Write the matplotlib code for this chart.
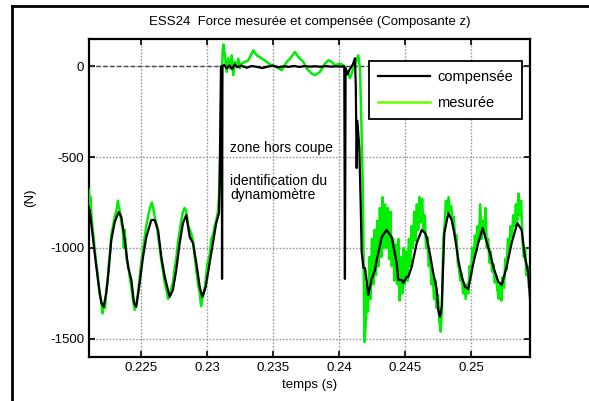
# -*- coding: utf-8 -*-
"""
ESS24 : force mesuree et compensee, composante z.
"""

import matplotlib
matplotlib.use("Agg")
import matplotlib.pyplot as plt
from matplotlib.lines import Line2D

plt.rcParams.update({
    "font.family": ["Liberation Sans", "DejaVu Sans"],
    "font.size": 9.5,
    "axes.unicode_minus": False,
})

# ============================================================
# 1. DONNEES
# ============================================================

# --- force compensee (noir) ---
t_comp = [
    0.22111, 0.22123, 0.22149, 0.22174, 0.22199, 0.22217, 0.22237, 0.22255,
    0.22275, 0.22301, 0.22331, 0.22351, 0.22377, 0.22402, 0.22427, 0.22447,
    0.22464, 0.22490, 0.22515, 0.22540, 0.22578, 0.22604, 0.22629, 0.22654,
    0.22680, 0.22717, 0.22742, 0.22767, 0.22793, 0.22818, 0.22843, 0.22869,
    0.22894, 0.22919, 0.22945, 0.22964, 0.22990, 0.23020, 0.23045, 0.23070,
    0.23091, 0.23096, 0.23106, 0.23112, 0.23114, 0.23117,
    0.2313, 0.2315, 0.2317, 0.2319, 0.2321, 0.2323, 0.2326, 0.2330,
    0.2334, 0.2338, 0.2342, 0.2346, 0.2350, 0.2354, 0.2358, 0.2362,
    0.2366, 0.2370, 0.2374, 0.2378, 0.2382, 0.2386, 0.2390, 0.2394,
    0.2398, 0.24015, 0.24040, 0.24045, 0.24050, 0.24063, 0.24083, 0.24105,
    0.24121, 0.24127, 0.24134, 0.24139, 0.24154, 0.24164, 0.24172, 0.24185,
    0.24197, 0.24222, 0.24248, 0.24273, 0.24286, 0.24324, 0.24361, 0.24399,
    0.24437, 0.24449, 0.24475, 0.24487, 0.24513, 0.24525, 0.24551, 0.24589,
    0.24627, 0.24652, 0.24664, 0.24689, 0.24714, 0.24740, 0.24752, 0.24765,
    0.24778, 0.24798, 0.24828, 0.24854, 0.24879, 0.24904, 0.24930, 0.24955,
    0.24980, 0.24992, 0.25018, 0.25055, 0.25089, 0.25114, 0.25144, 0.25169,
    0.25207, 0.25233, 0.25270, 0.25308, 0.25351, 0.25384, 0.25409, 0.25434,
    0.25447,
]
f_comp = [
    -791, -863, -1028, -1176, -1302, -1324, -1247, -1121,
    -956, -857, -802, -830, -956, -1104, -1176, -1302,
    -1324, -1192, -1050, -940, -846, -846, -901, -1050,
    -1159, -1269, -1231, -1121, -973, -863, -819, -940,
    -973, -1083, -1214, -1269, -1214, -1083, -973, -863,
    -808, -626, 0, 0, -1170, 0,
    8, -12, 5, -15, 10, -5, 3, -8,
    2, -4, -10, -2, 4, -6, 0, -3,
    2, -4, 1, -2, 0, -3, 1, -2,
    0, -2, 0, -1170, -10, -45, -15, 10,
    44, -100, -560, -300, -450, -747, -1022, -1110,
    -1110, -1258, -1170, -1120, -1066, -940, -901, -940,
    -1083, -1176, -1176, -1192, -1159, -1159, -1104, -973,
    -901, -918, -940, -1033, -1137, -1225, -1341, -1379,
    -1324, -918, -808, -846, -940, -1066, -1159, -1214,
    -1225, -1181, -1083, -973, -890, -956, -1028, -1104,
    -1186, -1203, -1104, -973, -863, -901, -1050, -1137,
    -1280,
]

# --- force mesuree (vert) ---
t_mes = [
    0.22106, 0.22112, 0.22118, 0.22125, 0.22135, 0.22149, 0.22160, 0.22174,
    0.22185, 0.22199, 0.22208, 0.22217, 0.22228, 0.22237, 0.22248, 0.22255,
    0.22265, 0.22275, 0.22288, 0.22301, 0.22315, 0.22325, 0.22331, 0.22341,
    0.22351, 0.22362, 0.22370, 0.22377, 0.22390, 0.22402, 0.22415, 0.22427,
    0.22440, 0.22452, 0.22464, 0.22477, 0.22490, 0.22502, 0.22515, 0.22528,
    0.22540, 0.22555, 0.22568, 0.22582, 0.22595, 0.22604, 0.22617, 0.22629,
    0.22642, 0.22654, 0.22667, 0.22680, 0.22695, 0.22705, 0.22717, 0.22730,
    0.22742, 0.22755, 0.22767, 0.22780, 0.22793, 0.22805, 0.22818, 0.22830,
    0.22843, 0.22856, 0.22869, 0.22881, 0.22894, 0.22907, 0.22919, 0.22932,
    0.22945, 0.22955, 0.22964, 0.22977, 0.22990, 0.23002, 0.23020, 0.23033,
    0.23045, 0.23058, 0.23070, 0.23083, 0.23091, 0.23098, 0.23104, 0.23108,
    0.23112, 0.23118, 0.23125,
    0.23136, 0.23149, 0.23161, 0.23174, 0.23187, 0.23199, 0.23212, 0.23225,
    0.23237, 0.23250, 0.23263, 0.23288, 0.23313, 0.23351, 0.23377, 0.23414,
    0.23452, 0.23490, 0.23528, 0.23566, 0.23604, 0.23629, 0.23667, 0.23692,
    0.23730, 0.23756, 0.23793, 0.23818, 0.23856, 0.23894, 0.23919, 0.23945,
    0.23970, 0.24008, 0.24033, 0.24071, 0.24083, 0.24109, 0.24146, 0.24159,
    0.24172, 0.24180, 0.24184, 0.24190, 0.24193, 0.24197, 0.24205,
    0.2421, 0.2422, 0.2423, 0.2424, 0.2425, 0.2426, 0.2427, 0.2428,
    0.2429, 0.2430, 0.2431, 0.2432, 0.2433, 0.2434, 0.2435, 0.2436,
    0.2437, 0.2438, 0.2439, 0.2440, 0.2441, 0.2442, 0.2443, 0.2444,
    0.2445, 0.2446, 0.2447, 0.2448, 0.2449, 0.2450, 0.2451, 0.2452,
    0.2453, 0.2454, 0.2455, 0.2456, 0.2457, 0.2458, 0.2459, 0.2460,
    0.2461, 0.2462, 0.2463, 0.2464, 0.2465, 0.2466, 0.2467, 0.2468,
    0.2469, 0.2470, 0.2471, 0.2472, 0.2473, 0.2474, 0.2475, 0.2476,
    0.2477, 0.2478, 0.2479, 0.2480, 0.2481, 0.2482, 0.2483, 0.2484,
    0.2485, 0.2486, 0.2487, 0.2488, 0.2489, 0.2490, 0.2491, 0.2492,
    0.2493, 0.2494, 0.2495, 0.2496, 0.2497, 0.2498, 0.2499, 0.2500,
    0.2501, 0.2502, 0.2503, 0.2504, 0.2505, 0.2506, 0.2507, 0.2508,
    0.2509, 0.2510, 0.2511, 0.2512, 0.2513, 0.2514, 0.2515, 0.2516,
    0.2517, 0.2518, 0.2519, 0.2520, 0.2521, 0.2522, 0.2523, 0.2524,
    0.2525, 0.2526, 0.2527, 0.2528, 0.2529, 0.2530, 0.2531, 0.2532,
    0.2533, 0.2534, 0.2535, 0.2536, 0.2537, 0.2538, 0.2539, 0.2540,
    0.2541, 0.2542, 0.2543, 0.2544, 0.2545,
]
f_mes = [
    -680, -760, -720, -830, -900, -1000, -1080, -1160,
    -1250, -1290, -1360, -1310, -1330, -1230, -1180, -1100,
    -1020, -930, -880, -830, -790, -740, -770, -800,
    -860, -900, -1000, -900, -1060, -1090, -1160, -1220,
    -1290, -1340, -1310, -1250, -1160, -1080, -1010, -940,
    -880, -820, -780, -750, -790, -830, -870, -930,
    -1000, -1070, -1130, -1190, -1240, -1280, -1260, -1220,
    -1190, -1110, -1060, -970, -910, -850, -800, -780,
    -800, -870, -900, -920, -960, -1050, -1120, -1200,
    -1250, -1320, -1280, -1250, -1180, -1090, -1040, -950,
    -930, -880, -850, -800, -720, -550, -300, -180,
    -100, 80, 120,
    60, -31, 44, -11, 60, -49, 24, -4,
    42, -11, 16, 24, 33, 88, 60, 44,
    24, 5, -4, -22, 24, 42, 79, 51,
    24, -13, -40, -49, -31, 15, 33, 24,
    5, 15, 5, -38, -66, -11, 60, -11,
    -379, -654, -929, -1297, -1517, -1478, -1385,
    -1200, -1350, -1050, -1280, -950, -1200, -900, -1150,
    -850, -1100, -780, -1050, -720, -1000, -760, -1000,
    -780, -1060, -800, -1100, -950, -1180, -980, -1200,
    -950, -1290, -1050, -1250, -1000, -1200, -1020, -1180,
    -950, -1100, -880, -1000, -800, -960, -760, -900,
    -720, -860, -730, -900, -820, -1000, -940, -1100,
    -1050, -1200, -1150, -1280, -1180, -1330, -1260, -1400,
    -1460, -1350, -950, -880, -740, -800, -720, -800,
    -770, -860, -830, -950, -930, -1080, -1120, -1180,
    -1140, -1250, -1200, -1280, -1200, -1250, -1100, -1150,
    -1000, -1080, -930, -1020, -880, -960, -760, -950,
    -850, -900, -780, -1000, -950, -1080, -1020, -1130,
    -1090, -1190, -1150, -1230, -1280, -1200, -1290, -1160,
    -1220, -1060, -1120, -950, -1010, -880, -940, -820,
    -880, -760, -850, -700, -820, -740, -950, -1050,
    -1000, -1150, -1100, -1220, -1180,
]

# --- annotations ---
x_texte = 0.23174
y_zone = -451
y_ident = -670

# ============================================================
# 2. FIGURE
# ============================================================
fig = plt.figure(figsize=(5.89, 4.01), dpi=100)
fig.patch.set_facecolor("white")

# cadre de la figure (coin haut-gauche)
fig.add_artist(Line2D([0.021, 0.021], [0.0, 0.985], color="k", lw=2))
fig.add_artist(Line2D([0.021, 1.0], [0.985, 0.985], color="k", lw=2))

ax = fig.add_axes([0.1511, 0.1097, 0.7487, 0.793])

ax.axhline(0, color="#444444", ls=(0, (3, 2)), lw=1.0, zorder=1)
l_mes, = ax.plot(t_mes, f_mes, color="#00ee00", lw=1.8, zorder=3)
l_comp, = ax.plot(t_comp, f_comp, color="k", lw=1.6, zorder=4)

ax.set_xlim(0.22106, 0.25447)
ax.set_ylim(-1600, 150)
ax.set_xticks([0.225, 0.23, 0.235, 0.24, 0.245, 0.25])
ax.set_xticklabels(["0.225", "0.23", "0.235", "0.24", "0.245", "0.25"])
ax.set_yticks([-1500, -1000, -500, 0])

ax.grid(True, color="#999999", ls=(0, (1.2, 1.2)), lw=1.0, zorder=0)
ax.set_axisbelow(True)
ax.tick_params(direction="in", top=True, right=True, length=4, width=1.2)
for s in ax.spines.values():
    s.set_linewidth(1.6)

ax.set_title("ESS24  Force mesurée et compensée (Composante z)",
             fontsize=9.5, pad=10)
ax.set_xlabel("temps (s)", labelpad=4)
ax.set_ylabel("(N)", labelpad=10)

ax.text(x_texte, y_zone, "zone hors coupe", fontsize=10, va="center")
ax.text(x_texte, y_ident, "identification du\ndynamomètre", fontsize=10,
        va="center", linespacing=1.0)

leg = ax.legend([l_comp, l_mes], ["compensée", "mesurée"],
                loc="upper right", bbox_to_anchor=(0.982, 0.931),
                borderaxespad=0.0, fontsize=10.5, fancybox=False,
                framealpha=1, edgecolor="k", handlelength=3.6,
                handletextpad=0.5, borderpad=0.6, labelspacing=0.85)
leg.get_frame().set_linewidth(1.3)
leg.legend_handles[1].set_color("#66ff00")

fig.savefig("out.png", dpi=100, facecolor="white")
